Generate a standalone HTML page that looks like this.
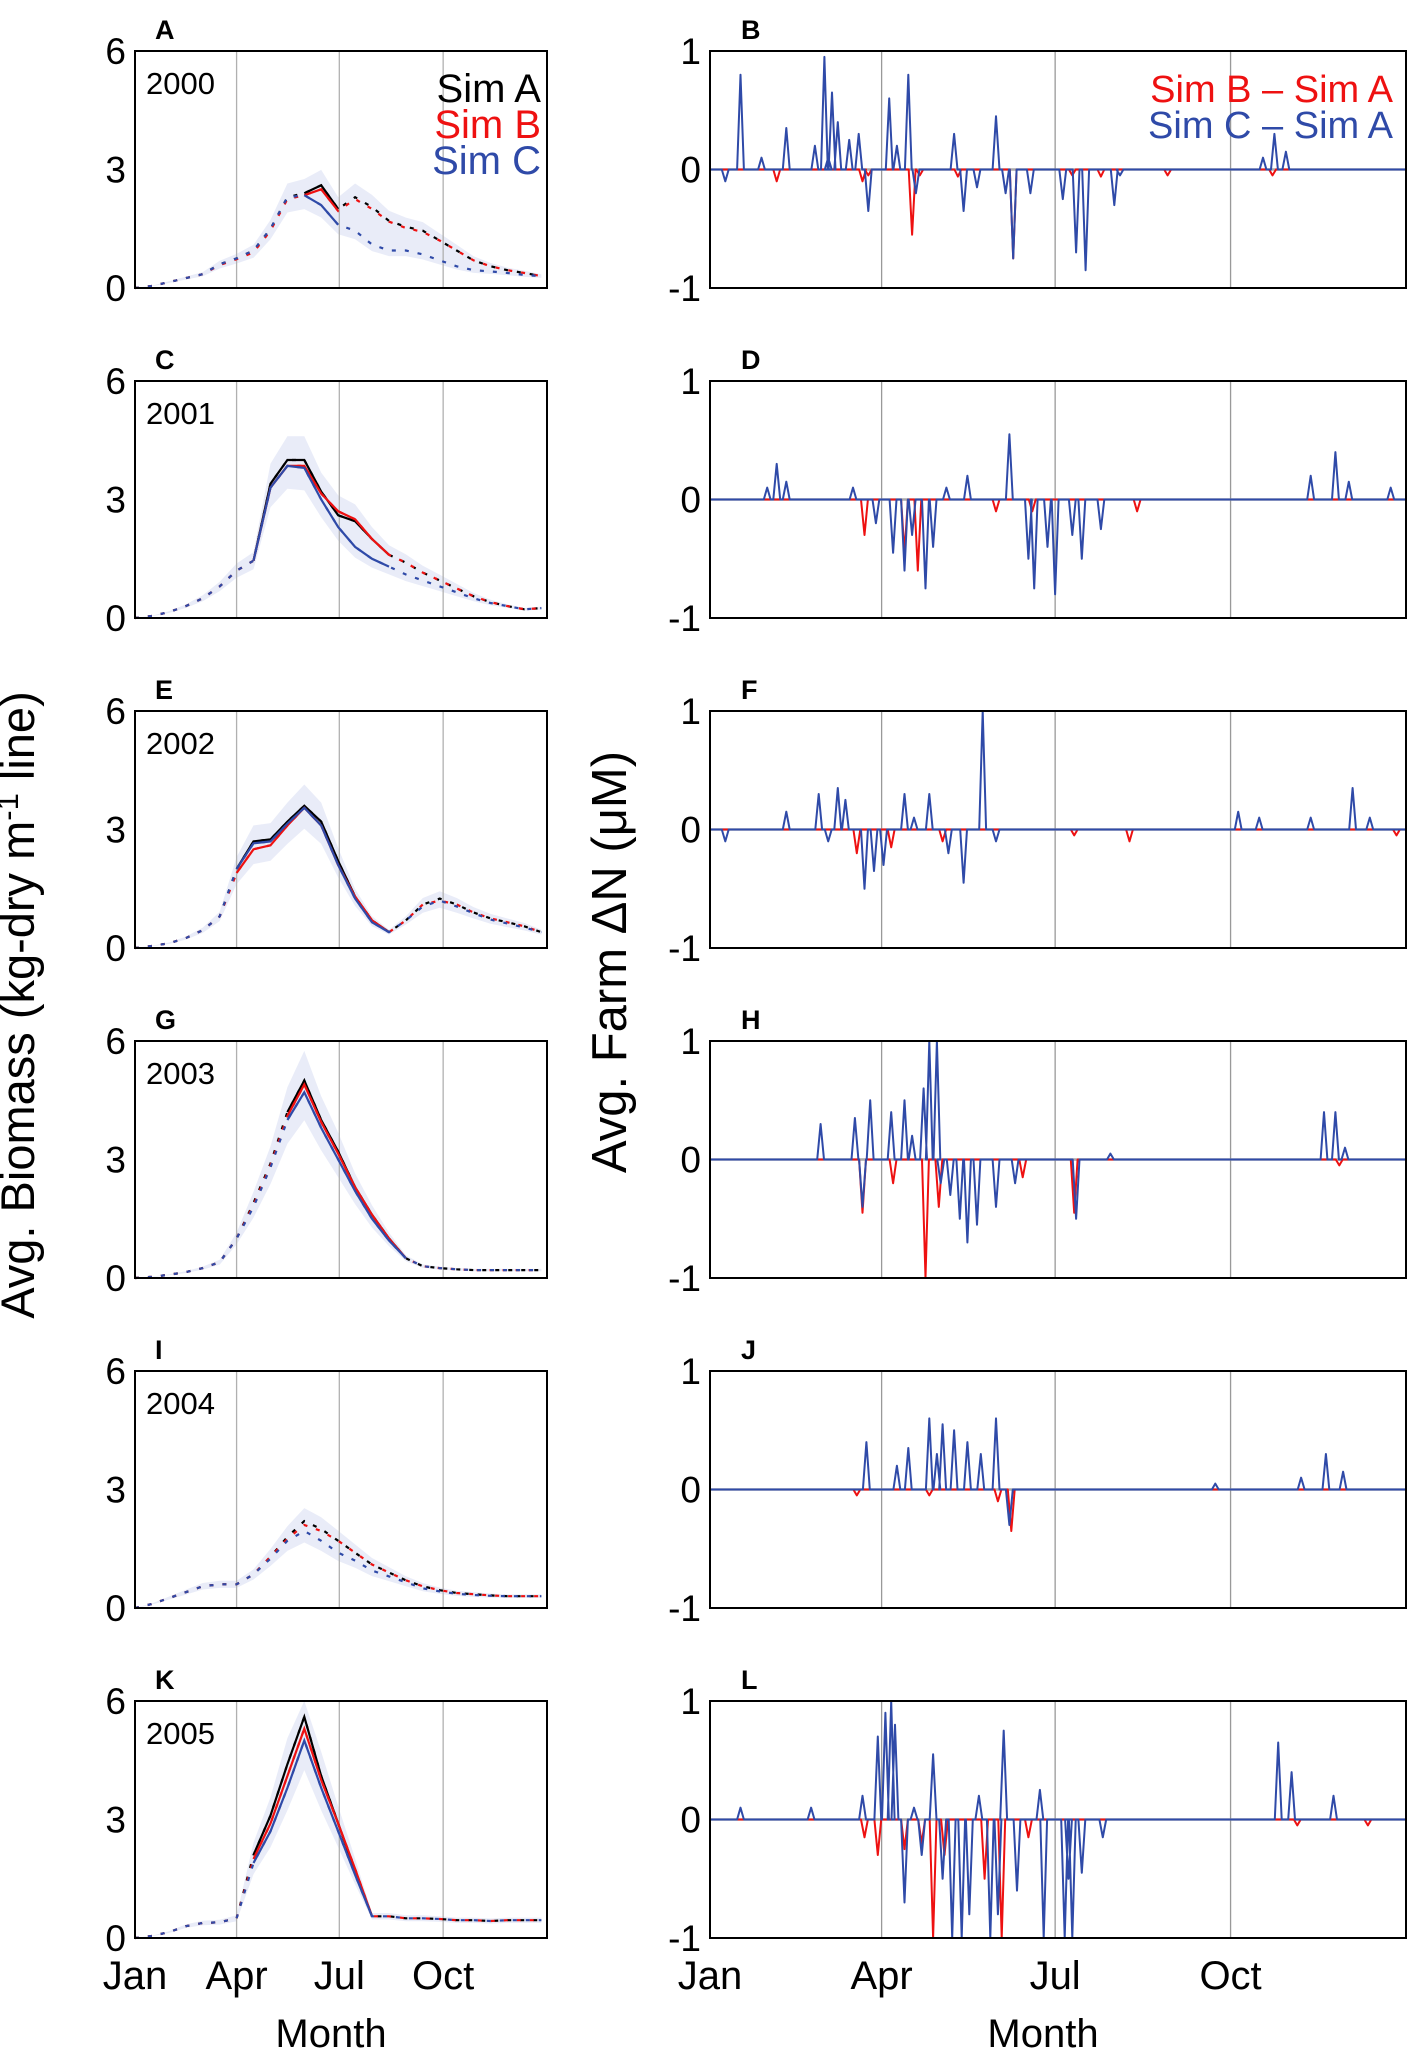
<!DOCTYPE html>
<html><head><meta charset="utf-8"><style>
html,body{margin:0;padding:0;background:#fff}
svg{display:block;font-family:"Liberation Sans",Arial,sans-serif}
</style></head><body>
<svg id="fig" width="1417" height="2055" viewBox="0 0 1417 2055" xmlns="http://www.w3.org/2000/svg">
<text x="34" y="1005" font-size="47" text-anchor="middle" transform="rotate(-90 34 1005)">Avg. Biomass (kg-dry m<tspan dy="-16" font-size="31">-1</tspan><tspan dy="16"> line)</tspan></text>
<text x="626" y="962" font-size="49" text-anchor="middle" transform="rotate(-90 626 962)">Avg. Farm ΔN (μM)</text>
</svg>
<script>
// ---- data ----
const days = [0,15,30,45,60,75,90,105,120,135,150,165,180,195,210,225,240,255,270,285,300,315,330,345,360];
const years = ["2000","2001","2002","2003","2004","2005"];
const leftLetters = ["A","C","E","G","I","K"];
const rightLetters = ["B","D","F","H","J","L"];
const simA = [
 [0,.05,.15,.25,.35,.6,.75,.95,1.5,2.3,2.4,2.6,2.0,2.3,2.05,1.7,1.55,1.45,1.2,.95,.7,.55,.45,.38,.3],
 [0,.05,.15,.3,.5,.8,1.2,1.45,3.4,4.0,4.0,3.2,2.6,2.45,2.0,1.6,1.4,1.15,.95,.75,.55,.4,.3,.22,.25],
 [0,.05,.12,.25,.45,.8,2.0,2.7,2.75,3.2,3.6,3.2,2.2,1.3,.7,.4,.7,1.1,1.25,1.1,.9,.75,.65,.55,.4],
 [0,.03,.08,.15,.25,.4,1.0,1.9,2.9,4.2,5.0,4.0,3.2,2.3,1.6,1.0,.5,.3,.25,.22,.2,.2,.2,.2,.2],
 [0,.1,.25,.4,.55,.6,.6,.85,1.3,1.8,2.2,2.0,1.7,1.4,1.1,.9,.7,.55,.45,.38,.35,.32,.3,.3,.3],
 [0,.05,.15,.3,.38,.4,.5,2.1,3.1,4.4,5.6,4.1,2.9,1.7,.55,.55,.5,.5,.48,.45,.45,.43,.45,.45,.45]];
const simB = [
 [0,.05,.15,.25,.35,.58,.73,.9,1.45,2.25,2.35,2.5,1.95,2.25,2.0,1.68,1.52,1.42,1.2,.95,.7,.55,.45,.38,.3],
 [0,.05,.15,.3,.5,.8,1.2,1.45,3.3,3.85,3.85,3.15,2.7,2.5,2.0,1.6,1.4,1.15,.95,.75,.55,.4,.3,.22,.25],
 [0,.05,.12,.25,.45,.8,1.9,2.5,2.6,3.1,3.55,3.1,2.1,1.3,.7,.4,.7,1.1,1.2,1.1,.9,.75,.65,.55,.4],
 [0,.03,.08,.15,.25,.4,1.0,1.85,2.85,4.1,4.9,3.95,3.15,2.3,1.6,1.0,.5,.3,.25,.22,.2,.2,.2,.2,.2],
 [0,.1,.25,.4,.55,.6,.6,.85,1.3,1.75,2.1,1.95,1.7,1.4,1.1,.9,.7,.55,.45,.38,.35,.32,.3,.3,.3],
 [0,.05,.15,.3,.38,.4,.5,2.0,2.9,4.1,5.3,4.0,2.9,1.75,.55,.55,.5,.5,.48,.45,.45,.43,.45,.45,.45]];
const simC = [
 [0,.05,.15,.25,.35,.6,.75,.95,1.5,2.3,2.35,2.1,1.6,1.45,1.1,.95,.95,.85,.7,.55,.45,.42,.38,.33,.3],
 [0,.05,.15,.3,.5,.8,1.2,1.45,3.3,3.85,3.8,3.0,2.3,1.8,1.5,1.3,1.1,.95,.8,.65,.5,.38,.3,.22,.25],
 [0,.05,.12,.25,.45,.8,2.0,2.65,2.7,3.15,3.55,3.1,2.1,1.25,.65,.4,.7,1.05,1.2,1.05,.88,.72,.62,.52,.4],
 [0,.03,.08,.15,.25,.4,1.0,1.8,2.8,4.0,4.7,3.8,3.0,2.2,1.5,.95,.5,.3,.25,.22,.2,.2,.2,.2,.2],
 [0,.1,.25,.4,.55,.6,.6,.85,1.25,1.7,1.95,1.7,1.4,1.2,.95,.8,.65,.5,.42,.36,.33,.31,.3,.3,.3],
 [0,.05,.15,.3,.38,.4,.5,1.9,2.7,3.8,5.0,3.8,2.7,1.6,.55,.55,.5,.5,.48,.45,.45,.43,.45,.45,.45]];
const solidStart = [150,100,90,125,300,100];
const solidEnd = [185,225,235,240,0,210];
const yTicksL = [0,3,6];
const yTicksR = [-1,0,1];
const monthLabels = ["Jan","Apr","Jul","Oct"];
const monthDays = [0,90,181,273];
// right panels: [day, value] spikes
const diffB = [
 [[35,-.1],[80,-.1],[83,-.05],[106,-.55],[110,-.05],[130,-.06],[159,-.75],[190,-.05],[205,-.06],[240,-.05],[295,-.05]],
 [[81,-.3],[102,-.45],[109,-.6],[150,-.1],[169,-.1],[224,-.1]],
 [[77,-.2],[95,-.15],[122,-.1],[191,-.05],[220,-.1],[360,-.05]],
 [[80,-.45],[96,-.2],[113,-1.0],[120,-.4],[164,-.15],[191,-.45],[330,-.05]],
 [[77,-.05],[115,-.05],[151,-.1],[158,-.35]],
 [[81,-.15],[88,-.3],[102,-.25],[111,-.2],[117,-1.0],[123,-.3],[144,-.5],[153,-1.0],[167,-.15],[308,-.05],[345,-.05]]];
const diffC = [
 [[8,-.1],[16,.8],[27,.1],[40,.35],[55,.2],[60,.95],[62,.1],[64,.65],[67,.4],[73,.25],[78,.3],[83,-.35],[94,.6],[98,.2],[104,.8],[108,-.2],[128,.3],[133,-.35],[140,-.15],[150,.45],[155,-.2],[159,-.75],[168,-.2],[185,-.25],[192,-.7],[197,-.85],[212,-.3],[215,-.05],[290,.1],[296,.3],[302,.15]],
 [[30,.1],[35,.3],[40,.15],[75,.1],[87,-.2],[96,-.45],[102,-.6],[106,-.3],[113,-.75],[117,-.4],[124,.1],[135,.2],[157,.55],[167,-.5],[170,-.75],[177,-.4],[181,-.8],[190,-.3],[195,-.5],[205,-.25],[315,.2],[328,.4],[335,.15],[357,.1]],
 [[8,-.1],[40,.15],[57,.3],[62,-.1],[67,.35],[71,.25],[81,-.5],[86,-.35],[91,-.3],[102,.3],[107,.1],[115,.3],[125,-.2],[133,-.45],[143,1.0],[150,-.1],[277,.15],[288,.1],[315,.1],[337,.35],[346,.1]],
 [[58,.3],[76,.35],[80,-.4],[84,.5],[95,.4],[102,.5],[106,.2],[112,.6],[115,1.0],[119,1.0],[121,-.2],[126,-.3],[131,-.5],[135,-.7],[140,-.55],[150,-.4],[160,-.2],[192,-.5],[210,.05],[322,.4],[328,.4],[333,.1]],
 [[82,.4],[98,.2],[104,.35],[115,.6],[119,.3],[122,.55],[128,.5],[135,.4],[142,.3],[150,.6],[157,-.3],[265,.05],[310,.1],[323,.3],[332,.15]],
 [[16,.1],[53,.1],[80,.2],[88,.7],[92,.9],[95,1.0],[97,.8],[102,-.7],[107,.1],[111,-.3],[117,.55],[122,-.5],[127,-1.0],[132,-1.0],[136,-.8],[141,.2],[147,-1.0],[151,-.8],[154,.75],[161,-.6],[173,.25],[175,-1.0],[186,-1.0],[188,-.5],[190,-1.0],[195,-.45],[206,-.15],[298,.65],[305,.4],[327,.2]]];

// ---- drawing ----
const NS = "http://www.w3.org/2000/svg";
const svg = document.getElementById("fig");
const rowTop = [51,381,711,1041,1371,1701];
const PH = 237;
const LX0 = 135, LX1 = 547, RX0 = 710, RX1 = 1406;
function mk(tag, attrs, parent) {
  const e = document.createElementNS(NS, tag);
  for (const k in attrs) e.setAttribute(k, attrs[k]);
  (parent || svg).appendChild(e);
  return e;
}
function xL(d){return LX0 + (LX1-LX0)*d/365;}
function xR(d){return RX0 + (RX1-RX0)*d/365;}
function yL(v,t){return t + PH - PH*v/6;}
function yR(v,t){const c=Math.max(-1,Math.min(1,v));return t + PH/2 - (PH/2)*c;}
function ptsStr(xs, ys){return xs.map((x,i)=>x.toFixed(1)+","+ys[i].toFixed(1)).join(" ");}

for (let p=0;p<6;p++){
  const t = rowTop[p];
  // ---------- left panel ----------
  const gL = mk("g",{});
  
  
  const up=[], lo=[];
  for (let i=0;i<days.length;i++){
    const mx=Math.max(simA[p][i],simB[p][i],simC[p][i]), mn=Math.min(simA[p][i],simB[p][i],simC[p][i]);
    up.push(Math.min(6,mx*1.15)); lo.push(mn*0.85);
  }
  const bx = days.map(xL);
  const band = mk("polygon",{points: ptsStr(bx.concat(bx.slice().reverse()), up.map(v=>yL(v,t)).concat(lo.slice().reverse().map(v=>yL(v,t)))), fill:"#e2e5f5", "fill-opacity":"0.75"}, gL);
  
  
  for (let m=1;m<4;m++){
    const gl = mk("line",{x1:xL(monthDays[m]),x2:xL(monthDays[m]),y1:t,y2:t+PH,stroke:"#b0b0b0","stroke-width":1.3}, gL);
    
    
  }
  const series = [[simA[p],"#000","sim-a-line"],[simB[p],"#ee1111","sim-b-line"],[simC[p],"#2f4aa8","sim-c-line"]];
  for (const [vals,col,nm] of series){
    const ys = vals.map(v=>yL(v,t));
    const dl = mk("polyline",{points:ptsStr(bx,ys),fill:"none",stroke:col,"stroke-width":2.2,"stroke-dasharray":"4,9"}, gL);
    
    
    const sx=[], sy=[];
    for (let i=0;i<days.length;i++) if (days[i]>=solidStart[p] && days[i]<=solidEnd[p]) {sx.push(bx[i]); sy.push(ys[i]);}
    if (sx.length>1){
      const sl = mk("polyline",{points:ptsStr(sx,sy),fill:"none",stroke:col,"stroke-width":2.2}, gL);
      
      
    }
  }
  const fr = mk("rect",{x:LX0,y:t,width:LX1-LX0,height:PH,fill:"none",stroke:"#000","stroke-width":2}, gL);
  
  
  for (const v of yTicksL){
    const tl = mk("text",{x:LX0-9,y:yL(v,t)+13,"font-size":37,"text-anchor":"end"}, gL);
    tl.textContent = v;
    
    
  }
  const yr = mk("text",{x:LX0+11,y:t+43,"font-size":31}, gL);
  yr.textContent = years[p];
  
  
  const lt = mk("text",{x:155,y:t-12,"font-size":27,"font-weight":"bold"}, gL);
  lt.textContent = leftLetters[p];
  
  

  // ---------- right panel ----------
  const gR = mk("g",{});
  
  
  for (let m=1;m<4;m++){
    const gl = mk("line",{x1:xR(monthDays[m]),x2:xR(monthDays[m]),y1:t,y2:t+PH,stroke:"#999","stroke-width":1.3}, gR);
    
    
  }
  const zl = mk("line",{x1:RX0,x2:RX1,y1:yR(0,t),y2:yR(0,t),stroke:"#aaa","stroke-width":2.5}, gR);
  
  
  for (const [arr,col,nm] of [[diffB[p],"#ee1111","sim-b-minus-a-line"],[diffC[p],"#2f4aa8","sim-c-minus-a-line"]]){
    const xs=[xR(0)], ys=[yR(0,t)];
    for (const [d,v] of arr){
      xs.push(xR(d-1.8)); ys.push(yR(0,t));
      xs.push(xR(d)); ys.push(yR(v,t));
      xs.push(xR(d+1.8)); ys.push(yR(0,t));
    }
    xs.push(xR(365)); ys.push(yR(0,t));
    const pl = mk("polyline",{points:ptsStr(xs,ys),fill:"none",stroke:col,"stroke-width":2,"stroke-linejoin":"round"}, gR);
    
    
  }
  const fr2 = mk("rect",{x:RX0,y:t,width:RX1-RX0,height:PH,fill:"none",stroke:"#000","stroke-width":2}, gR);
  
  
  for (const v of yTicksR){
    const tl = mk("text",{x:RX0-9,y:yR(v,t)+13,"font-size":37,"text-anchor":"end"}, gR);
    tl.textContent = v;
    
    
  }
  const lt2 = mk("text",{x:741,y:t-12,"font-size":27,"font-weight":"bold"}, gR);
  lt2.textContent = rightLetters[p];
  
  
}
// legends
const legL = [["Sim A","#000"],["Sim B","#ee1111"],["Sim C","#2f4aa8"]];
legL.forEach(([s,c],i)=>{
  const e = mk("text",{x:541,y:102+i*36,"font-size":40,"text-anchor":"end",fill:c});
  e.textContent = s;
  
  
});
const legR = [["Sim B – Sim A","#ee1111"],["Sim C – Sim A","#2f4aa8"]];
legR.forEach(([s,c],i)=>{
  const e = mk("text",{x:1393,y:102+i*36,"font-size":38,"text-anchor":"end",fill:c});
  e.textContent = s;
  
  
});
// x tick labels and axis titles
for (let m=0;m<4;m++){
  const a = mk("text",{x:xL(monthDays[m]),y:1989,"font-size":40,"text-anchor":"middle"});
  a.textContent = monthLabels[m];
  
  
  const b = mk("text",{x:xR(monthDays[m]),y:1989,"font-size":40,"text-anchor":"middle"});
  b.textContent = monthLabels[m];
  
  
}
const t1 = mk("text",{x:331,y:2047,"font-size":40,"text-anchor":"middle"});
t1.textContent = "Month";


const t2 = mk("text",{x:1043,y:2047,"font-size":40,"text-anchor":"middle"});
t2.textContent = "Month";


</script>
</body></html>
